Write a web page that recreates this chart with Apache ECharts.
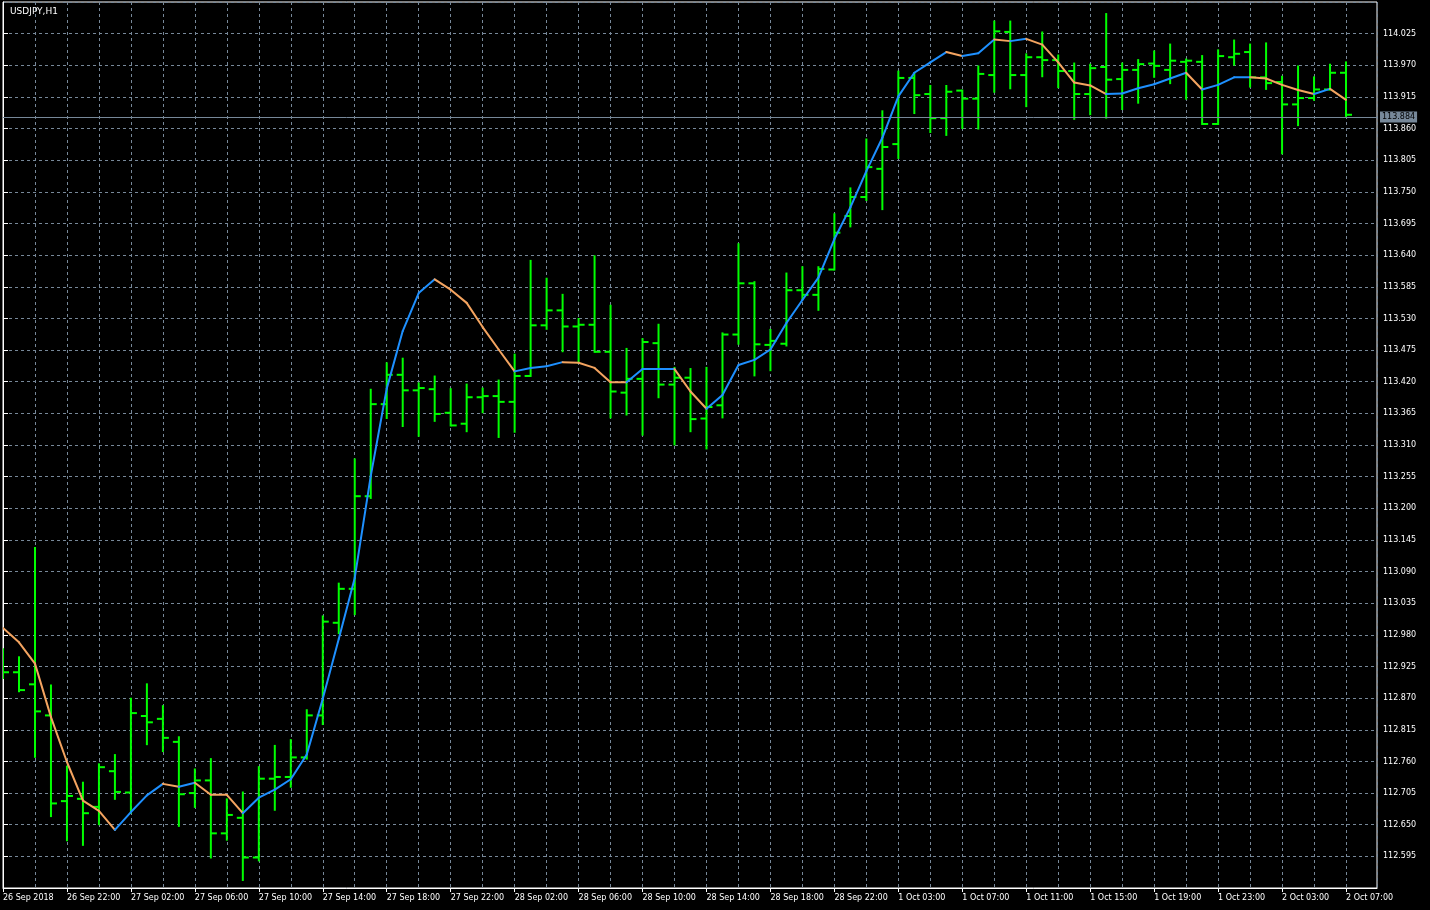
<!DOCTYPE html>
<html>
<head>
<meta charset="utf-8">
<script src="https://cdn.jsdelivr.net/npm/echarts@6/dist/echarts.min.js"></script>
<style>
html,body{margin:0;padding:0;background:#000;}
#chart{width:1430px;height:910px;}
</style>
</head>
<body>
<div id="chart"></div>
<script>
const symbolTitle = 'USDJPY,H1';
const bidPrice = 113.884;

const times = [
 '26 Sep 18:00','26 Sep 19:00','26 Sep 20:00','26 Sep 21:00','26 Sep 22:00','26 Sep 23:00',
 '27 Sep 00:00','27 Sep 01:00','27 Sep 02:00','27 Sep 03:00','27 Sep 04:00','27 Sep 05:00',
 '27 Sep 06:00','27 Sep 07:00','27 Sep 08:00','27 Sep 09:00','27 Sep 10:00','27 Sep 11:00',
 '27 Sep 12:00','27 Sep 13:00','27 Sep 14:00','27 Sep 15:00','27 Sep 16:00','27 Sep 17:00',
 '27 Sep 18:00','27 Sep 19:00','27 Sep 20:00','27 Sep 21:00','27 Sep 22:00','27 Sep 23:00',
 '28 Sep 00:00','28 Sep 01:00','28 Sep 02:00','28 Sep 03:00','28 Sep 04:00','28 Sep 05:00',
 '28 Sep 06:00','28 Sep 07:00','28 Sep 08:00','28 Sep 09:00','28 Sep 10:00','28 Sep 11:00',
 '28 Sep 12:00','28 Sep 13:00','28 Sep 14:00','28 Sep 15:00','28 Sep 16:00','28 Sep 17:00',
 '28 Sep 18:00','28 Sep 19:00','28 Sep 20:00','28 Sep 21:00','28 Sep 22:00','28 Sep 23:00',
 '1 Oct 01:00','1 Oct 02:00','1 Oct 03:00','1 Oct 04:00','1 Oct 05:00','1 Oct 06:00',
 '1 Oct 07:00','1 Oct 08:00','1 Oct 09:00','1 Oct 10:00','1 Oct 11:00','1 Oct 12:00',
 '1 Oct 13:00','1 Oct 14:00','1 Oct 15:00','1 Oct 16:00','1 Oct 17:00','1 Oct 18:00',
 '1 Oct 19:00','1 Oct 20:00','1 Oct 21:00','1 Oct 22:00','1 Oct 23:00','2 Oct 00:00',
 '2 Oct 01:00','2 Oct 02:00','2 Oct 03:00','2 Oct 04:00','2 Oct 05:00','2 Oct 06:00',
 '2 Oct 07:00'
];

const tickLabels = [
 '26 Sep 2018','26 Sep 22:00','27 Sep 02:00','27 Sep 06:00','27 Sep 10:00','27 Sep 14:00',
 '27 Sep 18:00','27 Sep 22:00','28 Sep 02:00','28 Sep 06:00','28 Sep 10:00','28 Sep 14:00',
 '28 Sep 18:00','28 Sep 22:00','1 Oct 03:00','1 Oct 07:00','1 Oct 11:00','1 Oct 15:00',
 '1 Oct 19:00','1 Oct 23:00','2 Oct 03:00','2 Oct 07:00'
];

const open = [
 112.935,112.915,112.894,112.840,112.691,112.695,112.681,112.743,112.706,112.839,
 112.834,112.794,112.705,112.727,112.635,112.662,112.593,112.730,112.733,112.767,
 112.840,113.001,113.060,113.221,113.381,113.432,113.405,113.407,113.366,113.347,
 113.393,113.395,113.385,113.430,113.518,113.544,113.516,113.519,113.472,113.401,
 113.425,113.487,113.415,113.427,113.356,113.379,113.502,113.591,113.484,113.486,
 113.579,113.571,113.615,113.708,113.741,113.790,113.833,113.948,113.920,113.878,
 113.926,113.912,113.953,114.028,113.953,113.984,113.979,113.960,113.920,113.967,
 113.946,113.962,113.973,113.962,113.976,113.976,113.868,113.984,113.993,113.949,
 113.941,113.902,113.913,113.928,113.957
];
const high = [
 112.955,112.941,113.131,112.892,112.751,112.723,112.755,112.771,112.869,112.894,
 112.856,112.802,112.746,112.764,112.694,112.706,112.750,112.787,112.797,112.849,
 113.012,113.069,113.285,113.406,113.452,113.460,113.417,113.429,113.407,113.415,
 113.408,113.422,113.467,113.630,113.599,113.571,113.529,113.638,113.552,113.477,
 113.494,113.519,113.444,113.442,113.444,113.504,113.659,113.593,113.510,113.608,
 113.619,113.619,113.711,113.756,113.841,113.890,113.959,113.956,113.934,113.934,
 113.926,113.968,114.046,114.046,113.989,114.027,113.987,113.973,113.971,114.059,
 113.973,113.979,113.994,114.006,113.980,113.986,113.996,114.013,114.006,114.008,
 113.950,113.968,113.949,113.971,113.975
];
const low = [
 112.905,112.882,112.768,112.665,112.623,112.615,112.651,112.695,112.671,112.790,
 112.778,112.648,112.681,112.593,112.624,112.554,112.588,112.676,112.716,112.765,
 112.825,112.983,113.016,113.218,113.357,113.343,113.326,113.352,113.344,113.334,
 113.367,113.324,113.333,113.430,113.512,113.473,113.453,113.472,113.358,113.363,
 113.328,113.393,113.311,113.334,113.304,113.358,113.486,113.431,113.440,113.483,
 113.564,113.545,113.615,113.690,113.736,113.720,113.809,113.887,113.854,113.849,
 113.861,113.860,113.924,113.930,113.899,113.951,113.932,113.877,113.885,113.879,
 113.894,113.905,113.950,113.939,113.912,113.868,113.868,113.971,113.933,113.929,
 113.817,113.866,113.910,113.928,113.882
];
const close = [
 112.915,112.884,112.847,112.687,112.700,112.670,112.750,112.707,112.844,112.828,
 112.801,112.703,112.727,112.635,112.667,112.593,112.730,112.733,112.767,112.840,
 113.003,113.060,113.221,113.381,113.432,113.405,113.409,113.364,113.344,113.393,
 113.395,113.385,113.430,113.518,113.544,113.516,113.519,113.472,113.403,113.425,
 113.489,113.415,113.427,113.355,113.376,113.502,113.591,113.485,113.491,113.579,
 113.571,113.616,113.679,113.741,113.793,113.828,113.948,113.918,113.878,113.924,
 113.912,113.955,114.029,113.953,113.984,113.979,113.960,113.920,113.965,113.945,
 113.962,113.972,113.969,113.978,113.978,113.868,113.986,113.990,113.949,113.939,
 113.902,113.913,113.928,113.957,113.884
];
const ma = [
 112.992,112.967,112.930,112.837,112.759,112.692,112.674,112.641,112.672,112.701,
 112.721,112.716,112.723,112.702,112.702,112.670,112.697,112.711,112.729,112.772,
 112.869,112.973,113.079,113.256,113.408,113.508,113.574,113.598,113.580,113.557,
 113.515,113.476,113.438,113.444,113.447,113.454,113.453,113.444,113.419,113.419,
 113.442,113.442,113.442,113.403,113.373,113.397,113.449,113.458,113.476,113.522,
 113.562,113.601,113.668,113.723,113.786,113.844,113.916,113.957,113.975,113.993,
 113.986,113.991,114.015,114.012,114.016,114.006,113.975,113.940,113.935,113.920,
 113.921,113.930,113.937,113.947,113.957,113.928,113.936,113.949,113.949,113.947,
 113.936,113.927,113.920,113.929,113.910
];

const ohlcData = times.map((t, i) => [i, open[i], high[i], low[i], close[i]]);
const maSegs = [];
let prevDir = -1;
for (let i = 0; i < ma.length - 1; i++) {
  const d = ma[i + 1] - ma[i];
  const dir = d > 0 ? 1 : (d < 0 ? -1 : prevDir);
  prevDir = dir;
  maSegs.push([i, ma[i], i + 1, ma[i + 1], dir]);
}

const FONT = 'DejaVu Sans';
const gridLine = { show: true, lineStyle: { color: '#778899', type: [3, 3], width: 1 } };
const xMax = 85.9375;

const chart = echarts.init(document.getElementById('chart'), null, { renderer: 'canvas' });
chart.setOption({
  animation: false,
  backgroundColor: '#000000',
  title: {
    text: symbolTitle, left: 5, top: 2,
    textStyle: { color: '#ffffff', fontSize: 9, fontWeight: 'normal', fontFamily: FONT }
  },
  grid: { left: 2, top: 2, right: 53, bottom: 22, show: true, borderColor: '#ffffff', borderWidth: 1, backgroundColor: '#000000' },
  xAxis: [
    {
      type: 'value', position: 'bottom', min: 0, max: xMax, interval: 2,
      axisLine: { show: true, lineStyle: { color: '#ffffff' } },
      axisTick: { show: false }, axisLabel: { show: false },
      splitLine: gridLine
    },
    {
      type: 'value', position: 'bottom', min: 0, max: xMax, interval: 4,
      axisLine: { show: false },
      axisTick: { show: true, length: 4, lineStyle: { color: '#ffffff' } },
      splitLine: { show: false },
      axisLabel: {
        show: true, color: '#ffffff', fontSize: 8, fontFamily: FONT, align: 'left', margin: 6,
        showMaxLabel: false,
        formatter: function (v) {
          const i = Math.round(v);
          if (Math.abs(v - i) > 1e-6 || i % 4 !== 0) return '';
          return tickLabels[i / 4] || '';
        }
      }
    }
  ],
  yAxis: {
    type: 'value', position: 'right', min: 112.540, max: 114.080, interval: 0.055,
    axisLine: { show: true, lineStyle: { color: '#ffffff' } },
    axisTick: { show: true, length: 5, inside: false, lineStyle: { color: '#ffffff' } },
    axisLabel: {
      color: '#ffffff', fontSize: 8, fontFamily: FONT, margin: 6,
      showMinLabel: false, showMaxLabel: false,
      formatter: v => v.toFixed(3)
    },
    splitLine: gridLine
  },
  series: [
    {
      type: 'custom', name: 'bars', xAxisIndex: 0, yAxisIndex: 0, clip: true, z: 3,
      data: ohlcData,
      encode: { x: 0, y: [1, 2, 3, 4] },
      renderItem: function (params, api) {
        const x = api.value(0);
        const pH = api.coord([x, api.value(2)]);
        const pL = api.coord([x, api.value(3)]);
        const pO = api.coord([x, api.value(1)]);
        const pC = api.coord([x, api.value(4)]);
        const st = { stroke: '#00ff00', lineWidth: 2 };
        return {
          type: 'group',
          children: [
            { type: 'line', shape: { x1: pH[0], y1: pH[1] - 1, x2: pL[0], y2: pL[1] + 1 }, style: st },
            { type: 'line', shape: { x1: pO[0] - 6, y1: pO[1], x2: pO[0], y2: pO[1] }, style: st },
            { type: 'line', shape: { x1: pC[0], y1: pC[1], x2: pC[0] + 6, y2: pC[1] }, style: st }
          ]
        };
      }
    },
    {
      type: 'custom', name: 'ma', xAxisIndex: 0, yAxisIndex: 0, clip: true, z: 5,
      data: maSegs,
      encode: { x: [0, 2], y: [1, 3] },
      renderItem: function (params, api) {
        const p1 = api.coord([api.value(0), api.value(1)]);
        const p2 = api.coord([api.value(2), api.value(3)]);
        return {
          type: 'line',
          shape: { x1: p1[0], y1: p1[1], x2: p2[0], y2: p2[1] },
          style: { stroke: api.value(4) > 0 ? '#1e90ff' : '#f4a460', lineWidth: 2, lineCap: 'round' }
        };
      }
    },
    {
      type: 'line', name: 'bid', xAxisIndex: 0, yAxisIndex: 0, z: 4,
      data: [[84, bidPrice]], symbol: 'none', silent: true,
      lineStyle: { width: 0 },
      markLine: {
        symbol: 'none', silent: true, animation: false,
        lineStyle: { color: '#778899', type: 'solid', width: 1 },
        label: {
          position: 'end', distance: 3,
          formatter: bidPrice.toFixed(3),
          backgroundColor: '#778899', color: '#000000',
          fontSize: 8, fontFamily: FONT, padding: [2, 2, 1, 2]
        },
        data: [{ yAxis: bidPrice }]
      }
    }
  ]
});
</script>
</body>
</html>
